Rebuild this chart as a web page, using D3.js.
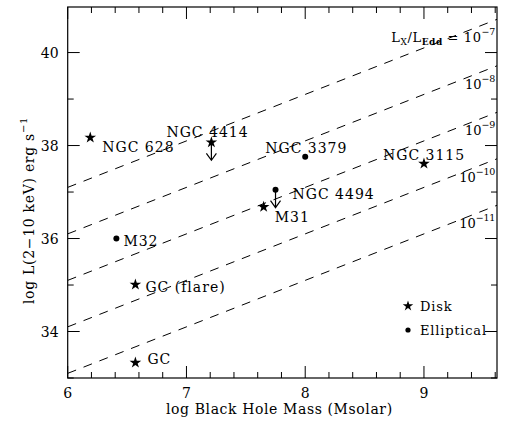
<!DOCTYPE html>
<html lang="en">
<head>
<meta charset="UTF-8">
<title>Lx vs Black Hole Mass</title>
<script src="https://d3js.org/d3.v7.min.js"></script>
<style>
  body { margin: 0; background: #fff; }
  text { font-family: "DejaVu Serif", "Liberation Serif", serif; }
</style>
</head>
<body>
<div id="plot-container"></div>
<script>
// data
const names  = ["NGC 628", "NGC 4414", "NGC 3379", "NGC 3115", "NGC 4494", "M31", "M32", "GC (flare)", "GC"];
const logM   = [6.19, 7.21, 8.00, 9.00, 7.75, 7.65, 6.41, 6.57, 6.57];
const logL   = [38.17, 38.07, 37.76, 37.61, 37.05, 36.68, 36.00, 35.01, 33.33];
const kind   = ["disk", "disk", "ell", "disk", "ell", "disk", "ell", "disk", "disk"];
const upper  = [false, true, false, false, true, false, false, false, false];
const ratios = [-7, -8, -9, -10, -11];   // log Lx/LEdd
const xTicks = [6, 7, 8, 9];
const yTicks = [34, 36, 38, 40];

// label placement (px offsets from the point)
const labelDx = [12, -45, -40, -41, 17, 11, 7, 10, 12];
const labelDy = [9, -10, -9, -9, 4, 10, 2, 2, -4];

const W = 509, H = 423;
const m = { left: 67.7, right: 12, top: 7, bottom: 45 };

const svg = d3.select("#plot-container").append("svg")
  .attr("width", W).attr("height", H);

const x = d3.scaleLinear().domain([6, 9.615]).range([m.left, W - m.right]);
const y = d3.scaleLinear().domain([33, 40.98]).range([H - m.bottom, m.top]);

svg.append("defs").append("clipPath").attr("id", "clip")
  .append("rect")
  .attr("x", x(6)).attr("y", y(40.98))
  .attr("width", x(9.615) - x(6)).attr("height", y(33) - y(40.98));

// Eddington ratio lines: log L = log M + 38.1 + log(ratio)
const lineGen = d3.line().x(d => x(d[0])).y(d => y(d[1]));
svg.append("g").attr("clip-path", "url(#clip)")
  .selectAll("path").data(ratios).enter().append("path")
  .attr("d", r => lineGen([[6, 6 + 38.1 + r], [9.615, 9.615 + 38.1 + r]]))
  .attr("fill", "none").attr("stroke", "#000").attr("stroke-width", 1)
  .attr("stroke-dasharray", "9,8");

// ratio labels
const rl = svg.append("g").attr("font-size", 13);
ratios.forEach((r, i) => {
  const t = rl.append("text").attr("x", 495).attr("y", y(40.22 - i)).attr("text-anchor", "end");
  if (i === 0) {
    t.attr("letter-spacing", 0.6);
    t.append("tspan").text("L");
    t.append("tspan").attr("font-size", 9).attr("dy", 3).text("X");
    t.append("tspan").attr("dy", -3).text("/L");
    t.append("tspan").attr("font-size", 9).attr("dy", 3).attr("font-weight", "bold").text("Edd");
    t.append("tspan").attr("dy", -3).text(" = 10");
  } else {
    t.append("tspan").text("10");
  }
  t.append("tspan").attr("font-size", 9.5).attr("dy", -7).attr("letter-spacing", -0.3).text("\u2212" + (-r));
});

// frame
svg.append("rect")
  .attr("x", x(6)).attr("y", y(40.98))
  .attr("width", x(9.615) - x(6)).attr("height", y(33) - y(40.98))
  .attr("fill", "none").attr("stroke", "#000").attr("stroke-width", 1.2);

// axes ticks
const xMinor = d3.range(6, 9.61, 0.2);
const yMinor = d3.range(33, 41, 1);
const ticks = svg.append("g").attr("stroke", "#000").attr("stroke-width", 1);
xMinor.forEach(v => {
  const major = Math.abs(v - Math.round(v)) < 1e-6;
  const len = major ? 12 : 6;
  ticks.append("line").attr("x1", x(v)).attr("x2", x(v)).attr("y1", y(33)).attr("y2", y(33) - len);
  ticks.append("line").attr("x1", x(v)).attr("x2", x(v)).attr("y1", y(40.98)).attr("y2", y(40.98) + len);
});
yMinor.forEach(v => {
  const len = v % 2 === 0 ? 12 : 6;
  ticks.append("line").attr("x1", x(6)).attr("x2", x(6) + len).attr("y1", y(v)).attr("y2", y(v));
  ticks.append("line").attr("x1", x(9.615)).attr("x2", x(9.615) - len).attr("y1", y(v)).attr("y2", y(v));
});

const tl = svg.append("g").attr("font-size", 14).style("font-family", "'DejaVu Sans', sans-serif");
xTicks.forEach(v => tl.append("text").attr("x", x(v)).attr("y", y(33) + 20)
  .attr("text-anchor", "middle").text(v));
yTicks.forEach(v => tl.append("text").attr("x", x(6) - 9).attr("y", y(v) + 5)
  .attr("text-anchor", "end").text(v));

// axis titles
svg.append("text").attr("x", (x(6) + x(9.615)) / 2 - 3).attr("y", 414)
  .attr("text-anchor", "middle").attr("font-size", 14).attr("letter-spacing", 0.6)
  .text("log Black Hole Mass (Msolar)");
const yt = svg.append("text").attr("transform", `translate(34,${(y(33) + y(40.98)) / 2 + 18}) rotate(-90)`)
  .attr("text-anchor", "middle").attr("font-size", 14).attr("letter-spacing", 0.7);
yt.append("tspan").text("log L(2\u221210 keV) erg s");
yt.append("tspan").attr("font-size", 10).attr("dy", -7).text("\u22121");

// points
const star = d3.symbol().type(d3.symbolStar).size(42);
const pts = svg.append("g");
names.forEach((n, i) => {
  const px = x(logM[i]), py = y(logL[i]);
  if (upper[i]) {
    const ay = py + 18;
    pts.append("path")
      .attr("d", `M${px},${py} L${px},${ay} M${px - 5},${ay - 7} L${px},${ay} L${px + 5},${ay - 7}`)
      .attr("fill", "none").attr("stroke", "#000").attr("stroke-width", 1.2);
  }
  if (kind[i] === "disk") {
    pts.append("path").attr("d", star).attr("transform", `translate(${px},${py})`).attr("fill", "#000");
  } else {
    pts.append("circle").attr("cx", px).attr("cy", py).attr("r", 3).attr("fill", "#000");
  }
  pts.append("text").attr("x", px + labelDx[i]).attr("y", py + labelDy[i] + 5)
    .attr("font-size", 14).attr("letter-spacing", 1).text(n);
});

// legend
const lg = svg.append("g");
lg.append("path").attr("d", d3.symbol().type(d3.symbolStar).size(34)).attr("transform", "translate(408,306)").attr("fill", "#000");
lg.append("text").attr("x", 420).attr("y", 311).attr("font-size", 13).attr("letter-spacing", 0.8).text("Disk");
lg.append("circle").attr("cx", 408).attr("cy", 330).attr("r", 2.6).attr("fill", "#000");
lg.append("text").attr("x", 420).attr("y", 335).attr("font-size", 13).attr("letter-spacing", 0.8).text("Elliptical");
</script>
</body>
</html>
